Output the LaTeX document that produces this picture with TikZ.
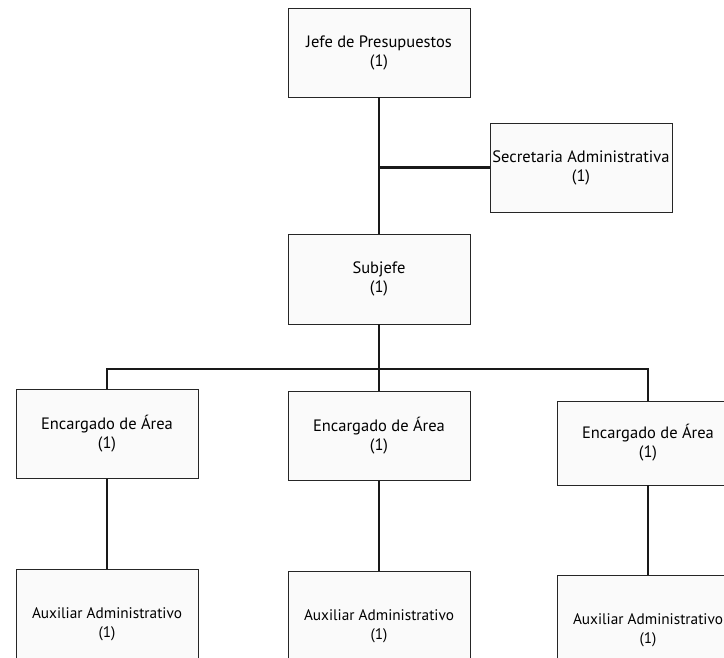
\documentclass[tikz,border=0pt]{standalone}
\usepackage{fontspec}
\setmainfont{PT Sans}
\usepackage{tikz}

\begin{document}
\begin{tikzpicture}[x=1pt,y=-1pt,
  cargo/.style={draw=black!85,line width=0.8pt,fill=black!2,minimum width=182pt,minimum height=89pt,align=center,inner sep=2pt,font=\fontsize{16.5}{19}\selectfont},
  auxiliar/.style={cargo,minimum height=110pt,font=\fontsize{15.3}{19}\selectfont},
  linea/.style={line width=2.2pt,black!90}]
\useasboundingbox (0,0) rectangle (724,658);
% direccion y apoyo
\node[cargo] (jefe) at (379,52.5) {Jefe de Presupuestos\\(1)};
\node[cargo] (secre) at (581,167.5) {Secretaria Administrativa\\(1)};
\node[cargo,minimum height=90pt] (sub) at (379,279) {Subjefe\\(1)};
% encargados de area
\node[cargo] (encA) at (107,434) {Encargado de Área\\(1)};
\node[cargo] (encB) at (379,436) {Encargado de Área\\(1)};
\node[cargo,minimum height=84pt] (encC) at (648,443) {Encargado de Área\\(1)};
% auxiliares (cortados abajo)
\node[auxiliar] (auxA) at (107,624) {Auxiliar Administrativo\\(1)};
\node[auxiliar] (auxB) at (379,626) {Auxiliar Administrativo\\(1)};
\node[auxiliar] (auxC) at (648,630) {Auxiliar Administrativo\\(1)};
\coordinate (barra) at (379,369);
% conectores
\draw[linea] (jefe.south) -- (sub.north);
\draw[linea] (secre.west) -- (secre.west -| jefe.south);
\draw[linea] (sub.south) -- (barra);
\draw[linea] (encA.north) |- (barra) -| (encC.north);
\draw[linea] (barra) -- (encB.north);
\draw[linea] (encA.south) -- (auxA.north);
\draw[linea] (encB.south) -- (auxB.north);
\draw[linea] (encC.south) -- (auxC.north);
\end{tikzpicture}
\end{document}
